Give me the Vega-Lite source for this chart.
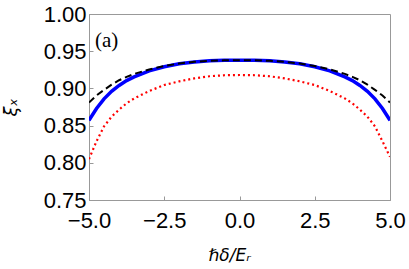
{
  "$schema": "https://vega.github.io/schema/vega-lite/v6.json",
  "width": 301,
  "height": 186,
  "autosize": "none",
  "padding": {"left": 89, "top": 14, "right": 19, "bottom": 69},
  "background": "white",
  "config": {
    "view": {"stroke": "#999999", "strokeWidth": 1},
    "axis": {
      "grid": false,
      "domainColor": "#999999",
      "tickColor": "#999999",
      "labelFont": "Liberation Sans",
      "labelFontSize": 22,
      "labelColor": "black",
      "titleColor": "black",
      "titleFontWeight": "normal",
      "labelOverlap": false,
      "labelFlush": false,
      "labelBound": false
    }
  },
  "datasets": {
    "curves": [
      {"x": -5.0, "blue": 0.857, "black": 0.881, "red": 0.805},
      {"x": -4.75, "blue": 0.873, "black": 0.8905, "red": 0.829},
      {"x": -4.5, "blue": 0.886, "black": 0.898, "red": 0.849},
      {"x": -4.25, "blue": 0.896, "black": 0.905, "red": 0.862},
      {"x": -4.0, "blue": 0.904, "black": 0.911, "red": 0.8715},
      {"x": -3.75, "blue": 0.9105, "black": 0.9155, "red": 0.88},
      {"x": -3.5, "blue": 0.9155, "black": 0.9195, "red": 0.8865},
      {"x": -3.0, "blue": 0.9235, "black": 0.9255, "red": 0.8965},
      {"x": -2.5, "blue": 0.929, "black": 0.93, "red": 0.9045},
      {"x": -2.0, "blue": 0.933, "black": 0.9335, "red": 0.9095},
      {"x": -1.5, "blue": 0.9355, "black": 0.9357, "red": 0.9135},
      {"x": -1.0, "blue": 0.937, "black": 0.937, "red": 0.9163},
      {"x": -0.5, "blue": 0.9378, "black": 0.9378, "red": 0.9177},
      {"x": 0.0, "blue": 0.938, "black": 0.938, "red": 0.918},
      {"x": 0.5, "blue": 0.9378, "black": 0.9378, "red": 0.9177},
      {"x": 1.0, "blue": 0.937, "black": 0.937, "red": 0.9163},
      {"x": 1.5, "blue": 0.9355, "black": 0.9357, "red": 0.9135},
      {"x": 2.0, "blue": 0.933, "black": 0.9335, "red": 0.9095},
      {"x": 2.5, "blue": 0.929, "black": 0.93, "red": 0.9045},
      {"x": 3.0, "blue": 0.9235, "black": 0.9255, "red": 0.8965},
      {"x": 3.5, "blue": 0.9155, "black": 0.9195, "red": 0.8865},
      {"x": 3.75, "blue": 0.9105, "black": 0.9155, "red": 0.88},
      {"x": 4.0, "blue": 0.904, "black": 0.911, "red": 0.8715},
      {"x": 4.25, "blue": 0.896, "black": 0.905, "red": 0.862},
      {"x": 4.5, "blue": 0.886, "black": 0.898, "red": 0.849},
      {"x": 4.75, "blue": 0.873, "black": 0.8905, "red": 0.829},
      {"x": 5.0, "blue": 0.857, "black": 0.881, "red": 0.808}
    ],
    "label": [{"x": -4.8, "y": 0.956, "text": "(a)"}]
  },
  "encoding": {
    "x": {
      "field": "x",
      "type": "quantitative",
      "scale": {"domain": [-5, 5], "nice": false, "zero": false},
      "axis": {
        "values": [-5, -2.5, 0, 2.5, 5],
        "format": ".1f",
        "tickSize": -4,
        "labelPadding": 14,
        "labelOverlap": false,
        "title": "ℏδ/Eᵣ",
        "titleFont": "DejaVu Sans",
        "titleFontStyle": "italic",
        "titleFontSize": 17,
        "titleX": 140,
        "titleY": 60,
        "titleBaseline": "alphabetic",
        "titleAlign": "center"
      }
    },
    "y": {
      "field": "red",
      "type": "quantitative",
      "scale": {"domain": [0.75, 1.0], "nice": false, "zero": false},
      "axis": {
        "values": [0.75, 0.8, 0.85, 0.9, 0.95, 1.0],
        "format": ".2f",
        "tickSize": -4,
        "labelPadding": 7,
        "labelOverlap": false,
        "title": "ξₓ",
        "titleFont": "DejaVu Sans",
        "titleFontStyle": "italic",
        "titleFontSize": 18,
        "titleX": -78,
        "titleY": 93,
        "titleAngle": -90,
        "titleBaseline": "middle",
        "titleAlign": "center"
      }
    }
  },
  "layer": [
    {
      "data": {"name": "curves"},
      "mark": {"type": "line", "color": "#ff0000", "strokeWidth": 2.2, "strokeDash": [2, 3], "clip": true}
    },
    {
      "data": {"name": "curves"},
      "mark": {"type": "line", "color": "#0000ff", "strokeWidth": 3.5, "clip": true},
      "encoding": {"y": {"field": "blue", "type": "quantitative"}}
    },
    {
      "data": {"name": "curves"},
      "mark": {"type": "line", "color": "black", "strokeWidth": 2, "strokeDash": [7, 4], "clip": true},
      "encoding": {"y": {"field": "black", "type": "quantitative"}}
    },
    {
      "data": {"name": "label"},
      "mark": {"type": "text", "font": "Liberation Serif", "fontSize": 21, "align": "left", "baseline": "alphabetic", "color": "black"},
      "encoding": {
        "y": {"field": "y", "type": "quantitative"},
        "text": {"field": "text"}
      }
    }
  ]
}
